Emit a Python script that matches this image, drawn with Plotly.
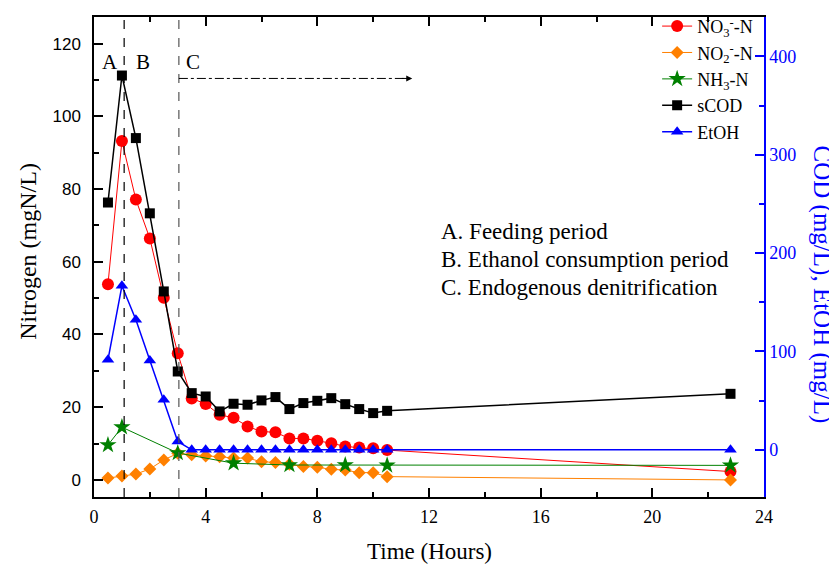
import plotly.graph_objects as go

# ---- data ----
time_main = [0.5, 1.0, 1.5, 2.0, 2.5, 3.0, 3.5, 4.0, 4.5, 5.0, 5.5, 6.0, 6.5,
             7.0, 7.5, 8.0, 8.5, 9.0, 9.5, 10.0, 10.5, 22.8]
no3_n = [53.8, 93.2, 77.1, 66.4, 50.1, 34.8, 22.4, 20.9, 17.9, 17.1, 14.7, 13.3, 13.1,
         11.4, 11.4, 10.8, 10.1, 9.2, 8.9, 8.7, 8.2, 2.3]
no2_n = [0.5, 1.1, 1.6, 3.0, 5.5, 7.3, 6.9, 6.6, 6.4, 6.0, 6.0, 5.0, 4.8,
         4.3, 3.7, 3.5, 2.9, 2.7, 2.0, 2.0, 0.9, 0.0]
time_nh3 = [0.5, 1.0, 3.0, 5.0, 7.0, 9.0, 10.5, 22.8]
nh3_n = [9.6, 14.5, 7.4, 4.6, 4.1, 4.1, 4.0, 4.0]
scod = [251.4, 380.5, 316.9, 240.4, 161.0, 79.6, 57.6, 54.2, 39.0, 46.8, 45.8, 50.2, 53.6,
        41.4, 47.5, 49.8, 52.5, 46.4, 41.4, 37.3, 39.6, 56.9]
etoh = [91.5, 166.7, 132.2, 90.8, 50.8, 8.5, 0, 0, 0, 0, 0, 0, 0,
        0, 0, 0, 0, 0, 0, 0, 0, 0]

phase_lines = [1.08, 3.04]
phase_labels = ["A", "B", "C"]
phase_label_x = [0.57, 1.74, 3.56]
phase_label_y = 114.8
arrow_start, arrow_end, arrow_y = 3.04, 11.4, 110.4
notes = ["A. Feeding period", "B. Ethanol consumption period", "C. Endogenous denitrification"]
notes_y = [68.4, 60.7, 53.0]
notes_x = 12.36

SERIF = "Liberation Serif"
SANS = "Liberation Sans"
BLUE = "#0000FF"

fig = go.Figure()
fig.add_trace(go.Scatter(x=time_main, y=no3_n, mode="lines+markers",
                         name="NO<sub>3</sub><sup>-</sup>-N",
                         line=dict(color="#FF0000", width=1),
                         marker=dict(symbol="circle", size=12, color="#FF0000")))
fig.add_trace(go.Scatter(x=time_main, y=no2_n, mode="lines+markers",
                         name="NO<sub>2</sub><sup>-</sup>-N",
                         line=dict(color="#FF8000", width=1),
                         marker=dict(symbol="diamond", size=10, color="#FF8000")))
fig.add_trace(go.Scatter(x=time_nh3, y=nh3_n, mode="lines+markers",
                         name="NH<sub>3</sub>-N",
                         line=dict(color="#008000", width=1),
                         marker=dict(symbol="star", size=13, color="#008000")))
fig.add_trace(go.Scatter(x=time_main, y=scod, mode="lines+markers", name="sCOD", yaxis="y2",
                         line=dict(color="#000000", width=1.5),
                         marker=dict(symbol="square", size=10, color="#000000")))
fig.add_trace(go.Scatter(x=time_main, y=etoh, mode="lines+markers", name="EtOH", yaxis="y2",
                         line=dict(color=BLUE, width=1.5),
                         marker=dict(symbol="triangle-up", size=11, color=BLUE)))

# phase separators
fig.add_shape(type="line", xref="x", yref="paper", x0=phase_lines[0], x1=phase_lines[0],
              y0=0, y1=1, line=dict(color="#000000", width=1.2, dash="dash"))
fig.add_shape(type="line", xref="x", yref="paper", x0=phase_lines[1], x1=phase_lines[1],
              y0=0, y1=1, line=dict(color="#555555", width=1.2, dash="dash"))
# dash-dot arrow
fig.add_shape(type="line", xref="x", yref="y", x0=arrow_start, x1=arrow_end - 0.2,
              y0=arrow_y, y1=arrow_y, line=dict(color="#000000", width=1, dash="dashdot"))
fig.add_annotation(x=arrow_end, y=arrow_y, xref="x", yref="y", ax=-12, ay=0,
                   showarrow=True, arrowhead=2, arrowsize=1.2, arrowwidth=1,
                   arrowcolor="#000000", text="", standoff=0)

for lbl, lx in zip(phase_labels, phase_label_x):
    fig.add_annotation(x=lx, y=phase_label_y, xref="x", yref="y", text=lbl, showarrow=False,
                       xanchor="center", yanchor="middle",
                       font=dict(family=SERIF, size=21, color="#000000"))

for note, ny in zip(notes, notes_y):
    fig.add_annotation(x=notes_x, y=ny, xref="x", yref="y", text=note, showarrow=False,
                       xanchor="left", yanchor="middle",
                       font=dict(family=SERIF, size=23, color="#000000"))

# axis titles
fig.add_annotation(x=0.5, y=-0.1125, xref="paper", yref="paper", text="Time (Hours)",
                   showarrow=False, xanchor="center", yanchor="middle",
                   font=dict(family=SERIF, size=23, color="#000000"))
fig.add_annotation(x=-0.0985, y=0.511, xref="paper", yref="paper", text="Nitrogen (mgN/L)",
                   showarrow=False, textangle=-90, xanchor="center", yanchor="middle",
                   font=dict(family=SERIF, size=24, color="#000000"))
fig.add_annotation(x=1.087, y=0.442, xref="paper", yref="paper", text="COD (mg/L), EtOH (mg/L)",
                   showarrow=False, textangle=90, xanchor="center", yanchor="middle",
                   font=dict(family=SERIF, size=25, color=BLUE))

fig.update_layout(
    width=837, height=567,
    margin=dict(l=86, r=81, t=9, b=78, autoexpand=False),
    paper_bgcolor="white", plot_bgcolor="white",
    showlegend=True,
    legend=dict(x=0.8405, y=1.019, xanchor="left", yanchor="top", bgcolor="rgba(0,0,0,0)",
                font=dict(family=SERIF, size=18, color="#000000"), tracegroupgap=0),
    xaxis=dict(range=[0, 24], tickvals=[0, 4, 8, 12, 16, 20, 24], showgrid=False, zeroline=False,
               showline=True, linecolor="#000000", linewidth=1.5, mirror="ticks",
               ticks="inside", ticklen=9, tickwidth=1.5, tickcolor="#000000",
               minor=dict(dtick=2, ticks="inside", ticklen=5, tickwidth=1.5, tickcolor="#000000"),
               tickfont=dict(family=SERIF, size=18, color="#000000"), ticklabelstandoff=3),
    yaxis=dict(range=[-4.7, 127.3], tickvals=[0, 20, 40, 60, 80, 100, 120], showgrid=False,
               zeroline=False, showline=True, linecolor="#000000", linewidth=1.5,
               ticks="inside", ticklen=9, tickwidth=1.5, tickcolor="#000000",
               minor=dict(dtick=10, ticks="inside", ticklen=5, tickwidth=1.5, tickcolor="#000000"),
               tickfont=dict(family=SANS, size=17, color="#000000"), ticklabelstandoff=8),
    yaxis2=dict(range=[-48, 440], tickvals=[0, 100, 200, 300, 400], overlaying="y", side="right",
                showgrid=False, zeroline=False, showline=True, linecolor=BLUE, linewidth=1.5,
                ticks="inside", ticklen=9, tickwidth=1.5, tickcolor=BLUE,
                minor=dict(dtick=50, ticks="inside", ticklen=5, tickwidth=1.5, tickcolor=BLUE),
                tickfont=dict(family=SERIF, size=18, color=BLUE), ticklabelstandoff=0),
)

fig.write_html("out.html")
